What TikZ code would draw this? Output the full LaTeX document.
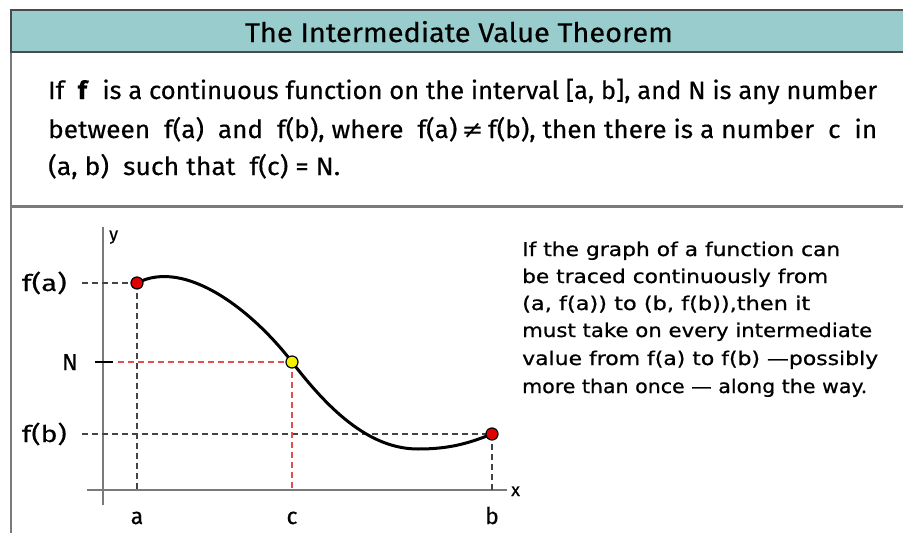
\documentclass[tikz,border=0pt]{standalone}
\usepackage{graphicx}
\usepackage{fontspec}
\setmainfont[FakeBold=0.4]{Fira Sans}
\newfontfamily\symfont{DejaVu Sans}
\newfontfamily\widefont[FakeBold=0.7]{DejaVu Sans}
\newlength\fitlen
\newcommand\fitw[2]{\settowidth\fitlen{#2}\pgfmathsetmacro\fitr{#1/\fitlen}\scalebox{\fitr}[1]{#2}}
\definecolor{titleteal}{HTML}{99CCCC}
\definecolor{framegray}{HTML}{7A7A7A}
\definecolor{bordergray}{HTML}{4A4A4A}
\definecolor{dashgray}{HTML}{444444}
\definecolor{dashred}{HTML}{E05050}
\definecolor{dotred}{HTML}{E00000}
\definecolor{dotyellow}{HTML}{F5F000}
\tikzset{
  txt/.style={inner sep=0pt, anchor=base west},
  guide/.style={dashgray, line width=1.1pt, dash pattern=on 6pt off 4pt},
  guidered/.style={dashred, line width=1.1pt, dash pattern=on 6pt off 4pt},
  axisline/.style={framegray, line width=1.8pt},
  dot/.style={circle, draw=black, line width=1.2pt, minimum size=12pt, inner sep=0pt},
  lbl/.style={inner sep=0pt},
}
\begin{document}
\begin{tikzpicture}[x=1pt, y=-1pt]
\useasboundingbox (0,0) rectangle (903,533);
\fill[white] (0,0) rectangle (903,533);
% frame
\draw[framegray, line width=2.5pt] (11,10) -- (11,533);
\draw[bordergray, line width=2pt, fill=titleteal] (11,10) rectangle (910,52);
\draw[framegray, line width=3pt] (11,206) -- (903,206);
% title
\node[inner sep=0pt, anchor=base] (title) at (459,42) {\fontsize{27}{30}\selectfont\fitw{428pt}{The Intermediate Value Theorem}};
% statement
\node[txt] (s1) at (48,99) {\fontsize{25}{30}\selectfont\fitw{829pt}{If \ \textbf{f} \ is a continuous function on the interval [a, b], and N is any number}};
\node[txt] (s2) at (48,138) {\fontsize{25}{30}\selectfont\fitw{829pt}{between \ f(a) \ and \ f(b), where \ f(a)\,{\symfont ≠}\,f(b), then there is a number \ c \ in}};
\node[txt] (s3) at (48,175) {\fontsize{25}{30}\selectfont\fitw{292pt}{(a, b) \ such that \ f(c) = N.}};
% explanation
\node[txt] (e1) at (522,256) {\widefont\fontsize{19}{22}\selectfont\fitw{318pt}{If the graph of a function can}};
\node[txt] (e2) at (522,283) {\widefont\fontsize{19}{22}\selectfont\fitw{306pt}{be traced continuously from}};
\node[txt] (e3) at (522,310) {\widefont\fontsize{19}{22}\selectfont\fitw{288pt}{(a, f(a)) to (b, f(b)),then it}};
\node[txt] (e4) at (522,337) {\widefont\fontsize{19}{22}\selectfont\fitw{350pt}{must take on every intermediate}};
\node[txt] (e5) at (522,365) {\widefont\fontsize{19}{22}\selectfont\fitw{356pt}{value from f(a) to f(b) —possibly}};
\node[txt] (e6) at (522,393) {\widefont\fontsize{19}{22}\selectfont\fitw{345pt}{more than once — along the way.}};
% graph points
\coordinate (A) at (137,283);
\coordinate (C) at (292,362);
\coordinate (T) at (418,449);
\coordinate (B) at (492,434);
\coordinate (xl) at (87,490);
\coordinate (xr) at (507,490);
\coordinate (yt) at (103,227);
\coordinate (yb) at (103,505);
\coordinate (fal) at (82,283);
\coordinate (fbl) at (82,434);
\coordinate (Nl) at (118,362);
\coordinate (tk1) at (95,362);
\coordinate (tk2) at (113,362);
\coordinate (Ax) at (137,490);
\coordinate (Cx) at (292,490);
\coordinate (Bx) at (492,490);
% axes
\draw[axisline] (xl) -- (xr);
\draw[axisline] (yt) -- (yb);
% guides
\draw[guide] (fal) -- (A);
\draw[guide] (A) -- (Ax);
\draw[guide] (fbl) -- (B);
\draw[guide] (B) -- (Bx);
\draw[guidered] (Nl) -- (C);
\draw[guidered] (C) -- (Cx);
\draw[black, line width=2.5pt] (tk1) -- (tk2);
% curve
\draw[black, line width=3pt, line cap=round]
  (A) .. controls (185,258) and (252,310) .. (C)
      .. controls (327,407.5) and (368,449) .. (T)
      .. controls (448,449) and (467,444) .. (B);
% dots
\node[dot, fill=dotred] (dA) at (A) {};
\node[dot, fill=dotyellow] (dC) at (C) {};
\node[dot, fill=dotred] (dB) at (B) {};
% labels
\node[lbl, anchor=base east] (lfa) at (67,291) {\fontsize{23}{26}\selectfont\fitw{45pt}{f(a)}};
\node[lbl, anchor=base east] (lN) at (78,370) {\fontsize{23}{26}\selectfont N};
\node[lbl, anchor=base east] (lfb) at (67,442) {\fontsize{23}{26}\selectfont\fitw{45pt}{f(b)}};
\node[lbl, anchor=base] (la) at (137,524) {\fontsize{23}{26}\selectfont a};
\node[lbl, anchor=base] (lc) at (292,524) {\fontsize{23}{26}\selectfont c};
\node[lbl, anchor=base] (lb) at (492,524) {\fontsize{23}{26}\selectfont b};
\node[lbl, anchor=base west] (lx) at (511,496) {\fontsize{18}{20}\selectfont x};
\node[lbl, anchor=base west] (ly) at (109,240) {\fontsize{18}{20}\selectfont y};
\end{tikzpicture}
\end{document}
